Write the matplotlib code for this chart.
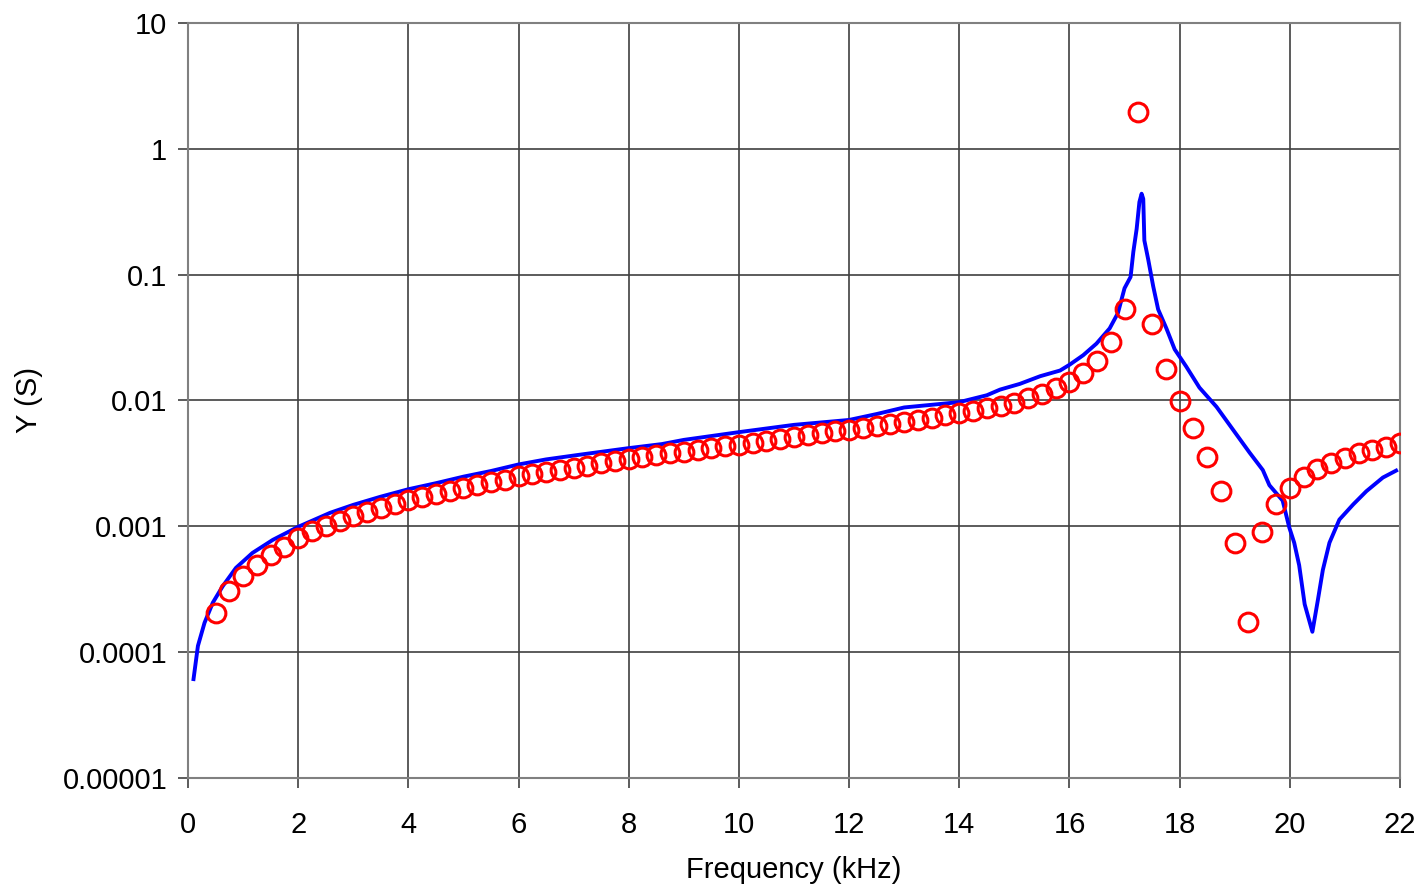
import matplotlib
matplotlib.use('Agg')
import matplotlib.pyplot as plt
from matplotlib.ticker import FixedLocator, FixedFormatter, NullLocator

plt.rcParams['font.family'] = ['Liberation Sans', 'DejaVu Sans']

# measured admittance (circles), every 0.25 kHz
f_meas = [0.5, 0.75, 1.0, 1.25, 1.5, 1.75, 2.0, 2.25, 2.5, 2.75, 3.0, 3.25, 3.5, 3.75,
          4.0, 4.25, 4.5, 4.75, 5.0, 5.25, 5.5, 5.75, 6.0, 6.25, 6.5, 6.75, 7.0, 7.25,
          7.5, 7.75, 8.0, 8.25, 8.5, 8.75, 9.0, 9.25, 9.5, 9.75, 10.0, 10.25, 10.5,
          10.75, 11.0, 11.25, 11.5, 11.75, 12.0, 12.25, 12.5, 12.75, 13.0, 13.25, 13.5,
          13.75, 14.0, 14.25, 14.5, 14.75, 15.0, 15.25, 15.5, 15.75, 16.0, 16.25, 16.5,
          16.75, 17.0, 17.25, 17.5, 17.75, 18.0, 18.25, 18.5, 18.75, 19.0, 19.25, 19.5,
          19.75, 20.0, 20.25, 20.5, 20.75, 21.0, 21.25, 21.5, 21.75, 22.0]
y_meas = [2.05e-4, 3.05e-4, 4.0e-4, 4.95e-4, 5.9e-4, 6.8e-4, 8.1e-4, 9.1e-4, 1.01e-3,
          1.11e-3, 1.21e-3, 1.31e-3, 1.41e-3, 1.51e-3, 1.62e-3, 1.72e-3, 1.82e-3,
          1.92e-3, 2.02e-3, 2.12e-3, 2.23e-3, 2.33e-3, 2.5e-3, 2.6e-3, 2.71e-3, 2.82e-3,
          2.93e-3, 3.04e-3, 3.16e-3, 3.28e-3, 3.4e-3, 3.53e-3, 3.66e-3, 3.79e-3, 3.92e-3,
          4.05e-3, 4.18e-3, 4.31e-3, 4.44e-3, 4.61e-3, 4.78e-3, 4.96e-3, 5.14e-3,
          5.31e-3, 5.49e-3, 5.67e-3, 5.85e-3, 6.07e-3, 6.3e-3, 6.54e-3, 6.79e-3,
          7.05e-3, 7.32e-3, 7.6e-3, 7.9e-3, 8.25e-3, 8.65e-3, 9.1e-3, 9.6e-3, 1.04e-2,
          1.12e-2, 1.25e-2, 1.41e-2, 1.66e-2, 2.06e-2, 2.89e-2, 5.3e-2, 1.96, 4.02e-2,
          1.77e-2, 9.9e-3, 6.0e-3, 3.56e-3, 1.92e-3, 7.4e-4, 1.74e-4, 9.0e-4, 1.51e-3,
          2.03e-3, 2.47e-3, 2.84e-3, 3.2e-3, 3.46e-3, 3.79e-3, 4.04e-3, 4.27e-3, 4.55e-3]

# simulated admittance (line)
f_sim = [0.1, 0.18, 0.3, 0.45, 0.63, 0.87, 1.17, 1.54, 2.0, 2.58, 3.0, 3.5, 4.0, 4.5,
         5.0, 5.5, 6.0, 6.5, 7.1, 8.0, 8.6, 9.0, 10.0, 11.0, 12.0, 12.5, 13.0, 14.0,
         14.5, 14.74, 15.1, 15.47, 15.83, 16.0, 16.25, 16.49, 16.73, 16.88, 17.0, 17.11,
         17.16, 17.22, 17.27, 17.31, 17.34, 17.36, 17.43, 17.52, 17.61, 17.76, 17.91,
         18.12, 18.36, 18.67, 18.97, 19.27, 19.51, 19.63, 19.87, 19.99, 20.08, 20.17,
         20.27, 20.41, 20.51, 20.6, 20.72, 20.9, 21.15, 21.39, 21.69, 21.93]
y_sim = [6.1e-5, 1.12e-4, 1.71e-4, 2.47e-4, 3.34e-4, 4.67e-4, 6.14e-4, 7.8e-4, 9.9e-4,
         1.28e-3, 1.48e-3, 1.72e-3, 1.97e-3, 2.2e-3, 2.48e-3, 2.75e-3, 3.1e-3, 3.4e-3,
         3.7e-3, 4.18e-3, 4.5e-3, 4.86e-3, 5.6e-3, 6.4e-3, 7.0e-3, 7.8e-3, 8.8e-3,
         9.7e-3, 1.1e-2, 1.22e-2, 1.355e-2, 1.56e-2, 1.73e-2, 1.92e-2, 2.29e-2, 2.83e-2,
         3.74e-2, 4.95e-2, 7.8e-2, 9.6e-2, 0.152, 0.231, 0.378, 0.44, 0.40, 0.187, 0.132,
         0.081, 0.053, 0.0374, 0.0255, 0.0186, 0.01265, 0.0089, 0.00585, 0.00385,
         0.0028, 0.00212, 0.0016, 0.00098, 7.4e-4, 4.9e-4, 2.4e-4, 1.45e-4, 2.6e-4,
         4.5e-4, 7.4e-4, 1.13e-3, 1.49e-3, 1.9e-3, 2.44e-3, 2.77e-3]

y_ticks = [1e-5, 1e-4, 1e-3, 1e-2, 1e-1, 1, 10]
y_labels = ['0.00001', '0.0001', '0.001', '0.01', '0.1', '1', '10']
x_ticks = list(range(0, 23, 2))

fig = plt.figure(figsize=(14.2, 8.86), dpi=100)
ax = fig.add_axes([0.1324, 0.122, 0.8535, 0.852])

ax.plot(f_sim, y_sim, color='#0000ff', lw=2.8, zorder=3)
ax.plot(f_meas, y_meas, 'o', mfc='none', mec='#ff0000', mew=2.2, ms=13.5, zorder=4)

ax.set_yscale('log')
ax.set_xlim(0, 22)
ax.set_ylim(1e-5, 10)
ax.yaxis.set_major_locator(FixedLocator(y_ticks))
ax.yaxis.set_major_formatter(FixedFormatter(y_labels))
ax.yaxis.set_minor_locator(NullLocator())
ax.set_xticks(x_ticks)

ax.grid(True, color='#404040', lw=1.2)
ax.set_axisbelow(True)
for s in ax.spines.values():
    s.set_color('#808080')
    s.set_linewidth(1.5)

ax.tick_params(axis='both', direction='out', length=7, width=1.2, color='#404040',
               labelsize=21)
ax.tick_params(axis='x', pad=17)
ax.tick_params(axis='y', pad=8)
ax.set_xlabel('Frequency (kHz)', fontsize=21, labelpad=12)
ax.set_ylabel('Y (S)', fontsize=21, labelpad=14)

fig.savefig('out.png', dpi=100)
